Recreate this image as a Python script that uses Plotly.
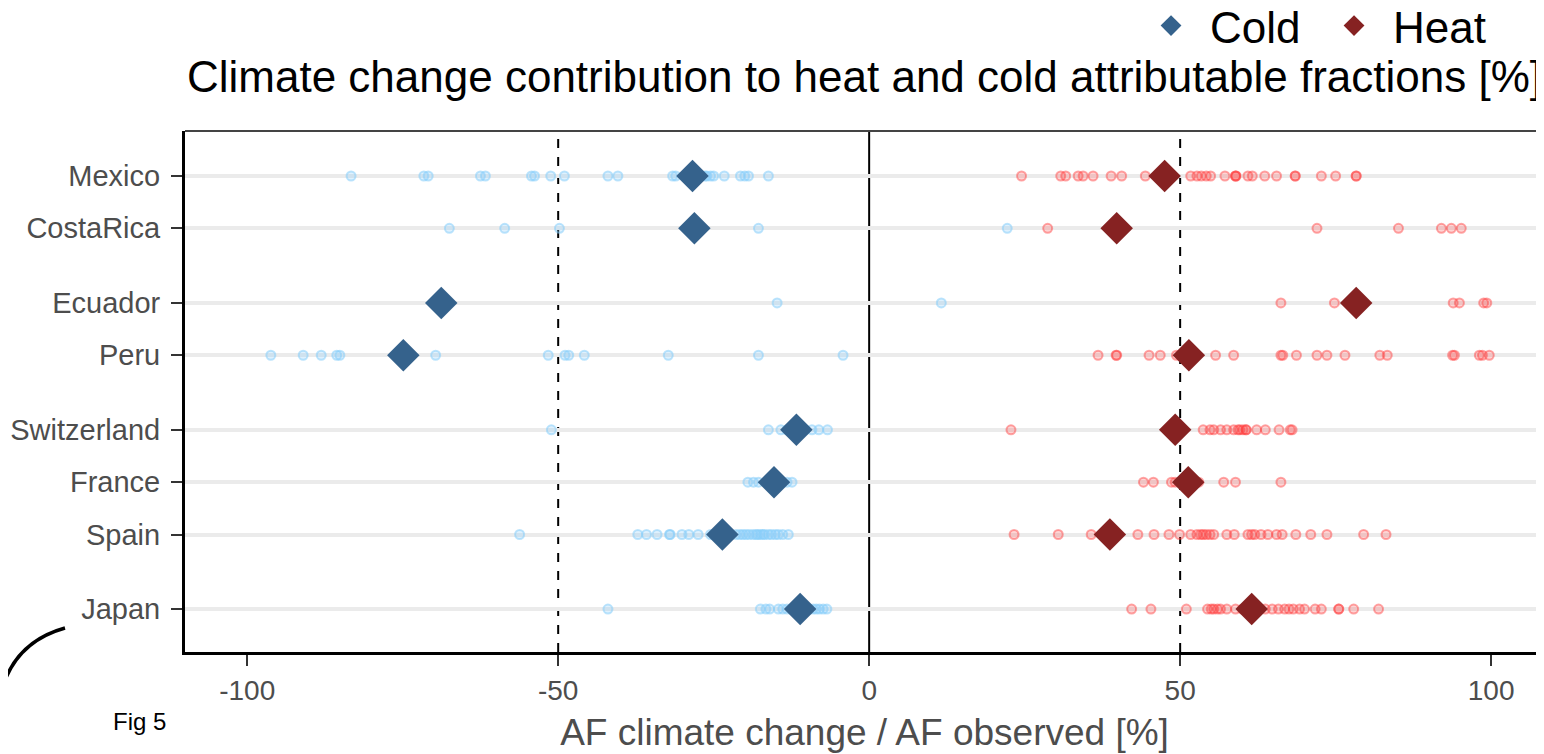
import plotly.graph_objects as go

# ---------------- data ----------------
countries = ["Japan", "Spain", "France", "Switzerland", "Peru", "Ecuador", "CostaRica", "Mexico"]
groups = [0, 1, 1, 1, 2, 2, 3, 3]          # regional blocks (extra gap between blocks)

cold_mexico = [-83.3, -71.6, -70.9, -62.5, -61.7, -54.3, -53.8, -51.2, -49.0, -42.0, -40.4,
               -31.6, -31.1, -29.5, -27.0, -26.4, -26.1, -25.5, -25.0, -23.3, -20.7, -20.0, -19.4, -16.2]
cold_costarica = [-67.5, -58.6, -49.8, -17.8, 22.2]
cold_ecuador = [-14.8, 11.6]
cold_peru = [-96.2, -91.0, -88.1, -85.6, -85.1, -69.7, -51.6, -48.9, -48.3, -45.8, -32.3, -17.8, -4.2]
cold_switzerland = [-51.1, -16.2, -14.2, -13.2, -12.5, -10.3, -9.2, -8.1, -6.7]
cold_france = [-19.5, -18.6, -17.8, -14.0, -13.2, -12.4]
cold_spain = [-56.2, -37.2, -35.8, -34.1, -32.1, -32.0, -30.1, -29.0, -27.5, -25.5, -21.4, -20.8, -20.3,
              -19.8, -19.3, -18.7, -18.2, -17.9, -17.5, -17.1, -16.8, -16.2, -15.7, -15.1, -14.6, -13.9, -13.0]
cold_japan = [-42.0, -17.5, -16.6, -16.0, -14.6, -13.9, -13.2, -12.5, -10.2, -9.6, -9.0, -8.5,
              -8.0, -7.4, -6.8]

heat_mexico = [24.5, 30.8, 31.6, 33.6, 34.4, 36.0, 38.9, 40.6, 44.4, 51.7, 52.7, 53.4, 54.2, 54.9,
               57.2, 58.9, 58.9, 59.0, 60.9, 61.6, 63.6, 65.5, 68.5, 68.5, 72.7, 75.0, 78.3, 78.3]
heat_costarica = [28.7, 72.0, 85.1, 92.0, 93.6, 95.2]
heat_ecuador = [66.2, 74.8, 93.9, 94.9, 98.8, 99.3]
heat_peru = [36.8, 39.7, 39.8, 45.0, 46.8, 49.4, 55.7, 58.6, 66.2, 66.5, 68.7, 72.0, 73.6, 76.5,
             82.1, 83.3, 93.8, 94.1, 98.1, 98.6, 99.7]
heat_switzerland = [22.8, 53.7, 54.8, 55.4, 56.5, 57.5, 58.6, 59.3, 59.6, 60.1, 60.6, 60.6, 62.3,
                    63.7, 65.9, 67.7, 68.0]
heat_france = [44.1, 45.7, 48.6, 49.2, 49.9, 50.5, 53.0, 57.0, 58.9, 66.2]
heat_spain = [23.3, 30.4, 35.7, 43.2, 45.8, 48.2, 49.9, 51.7, 52.7, 53.3, 53.7, 54.2, 54.8, 55.4,
              57.5, 58.7, 60.9, 61.5, 62.0, 63.0, 64.1, 65.5, 66.4, 68.6, 71.0, 73.6, 79.5, 83.1]
heat_japan = [42.2, 45.3, 51.0, 54.4, 55.0, 55.4, 56.0, 56.5, 57.5, 58.9, 60.0, 62.7, 63.7, 64.8,
              65.8, 66.8, 67.5, 68.2, 69.2, 70.0, 71.7, 72.7, 75.5, 75.5, 77.9, 81.9]

# central estimates (diamonds), in the order of `countries`
cold_central = [-11.1, -23.6, -15.3, -11.7, -74.9, -68.8, -28.1, -28.4]
heat_central = [61.5, 38.7, 51.3, 49.2, 51.4, 78.3, 39.8, 47.5]

cold_points = [cold_japan, cold_spain, cold_france, cold_switzerland,
               cold_peru, cold_ecuador, cold_costarica, cold_mexico]
heat_points = [heat_japan, heat_spain, heat_france, heat_switzerland,
               heat_peru, heat_ecuador, heat_costarica, heat_mexico]

# ---------------- layout helpers ----------------
GAP = 0.425
ypos = [i + GAP * g for i, g in enumerate(groups)]

COLD_FILL = "rgba(135,206,250,0.28)"
COLD_LINE = "rgba(135,206,250,0.55)"
HEAT_FILL = "rgba(255,59,59,0.22)"
HEAT_LINE = "rgba(255,59,59,0.45)"
COLD_D = "#35628C"
HEAT_D = "#862222"

fig = go.Figure()

cx, cy, hx, hy = [], [], [], []
for y, cp, hp in zip(ypos, cold_points, heat_points):
    cx += cp
    cy += [y] * len(cp)
    hx += hp
    hy += [y] * len(hp)

fig.add_trace(go.Scatter(x=cx, y=cy, mode="markers", showlegend=False, hoverinfo="skip",
                         marker=dict(size=9, color=COLD_FILL, line=dict(color=COLD_LINE, width=2))))
fig.add_trace(go.Scatter(x=hx, y=hy, mode="markers", showlegend=False, hoverinfo="skip",
                         marker=dict(size=9, color=HEAT_FILL, line=dict(color=HEAT_LINE, width=2))))
fig.add_trace(go.Scatter(x=cold_central, y=ypos, mode="markers", name="Cold",
                         marker=dict(symbol="diamond", size=25, color=COLD_D, line=dict(width=0))))
fig.add_trace(go.Scatter(x=heat_central, y=ypos, mode="markers", name="Heat",
                         marker=dict(symbol="diamond", size=25, color=HEAT_D, line=dict(width=0))))

# reference lines
for xv, dash in [(-50, "dash"), (0, "solid"), (50, "dash")]:
    fig.add_shape(type="line", xref="x", yref="paper", x0=xv, x1=xv, y0=0, y1=1,
                  line=dict(color="black", width=2, dash=dash), layer="below")
# top border
fig.add_shape(type="line", xref="paper", yref="paper", x0=0, x1=1, y0=1, y1=1,
              line=dict(color="#444444", width=2))
# decorative arc at bottom-left
fig.add_shape(type="path", xref="paper", yref="paper",
              path="M -0.0883,0.046 Q -0.127,0.018 -0.1361,-0.085",
              line=dict(color="black", width=3.5))

fig.add_annotation(text="Fig 5", xref="paper", yref="paper", x=-0.0335, y=-0.134,
                   xanchor="center", yanchor="middle", showarrow=False,
                   font=dict(size=24, color="black"))

AXIS_GRAY = "#4D4D4D"
fig.update_layout(
    width=1544, height=754,
    # the page body adds an 8px offset; margins compensate for it
    margin=dict(l=177, r=8, t=123, b=110, autoexpand=False),
    paper_bgcolor="white", plot_bgcolor="white",
    font=dict(family="Liberation Sans, Arial, sans-serif"),
    title=dict(text="Climate change contribution to heat and cold attributable fractions [%]",
               x=0.5, xref="paper", xanchor="center", y=0.9085, yref="container", yanchor="middle",
               font=dict(size=44, color="black")),
    legend=dict(orientation="h", x=0.728, xref="container", xanchor="left", y=1.2015,
                yref="paper", yanchor="middle", itemwidth=68, entrywidth=100,
                entrywidthmode="pixels",
                font=dict(size=44, color="black"), itemsizing="trace", bgcolor="rgba(0,0,0,0)",
                tracegroupgap=0),
    xaxis=dict(range=[-110, 108.5], tickvals=[-100, -50, 0, 50, 100],
               ticktext=["-100", "-50", "0", "50", "100"], showgrid=False, zeroline=False,
               automargin=False,
               showline=True, linecolor="black", linewidth=3, ticks="outside", ticklen=11,
               tickwidth=2, tickcolor="#333333", tickfont=dict(size=28, color=AXIS_GRAY),
               title=dict(text="AF climate change / AF observed [%]", standoff=15,
                          font=dict(size=37, color=AXIS_GRAY))),
    yaxis=dict(range=[-0.82, 9.135], tickvals=ypos, ticktext=countries, showgrid=True,
               automargin=False, ticklabelstandoff=5,
               gridcolor="#EBEBEB", gridwidth=4, zeroline=False, showline=True,
               linecolor="black", linewidth=3, ticks="outside", ticklen=11, tickwidth=2,
               tickcolor="#333333", tickfont=dict(size=29, color=AXIS_GRAY)),
)

fig.write_html("out.html")
